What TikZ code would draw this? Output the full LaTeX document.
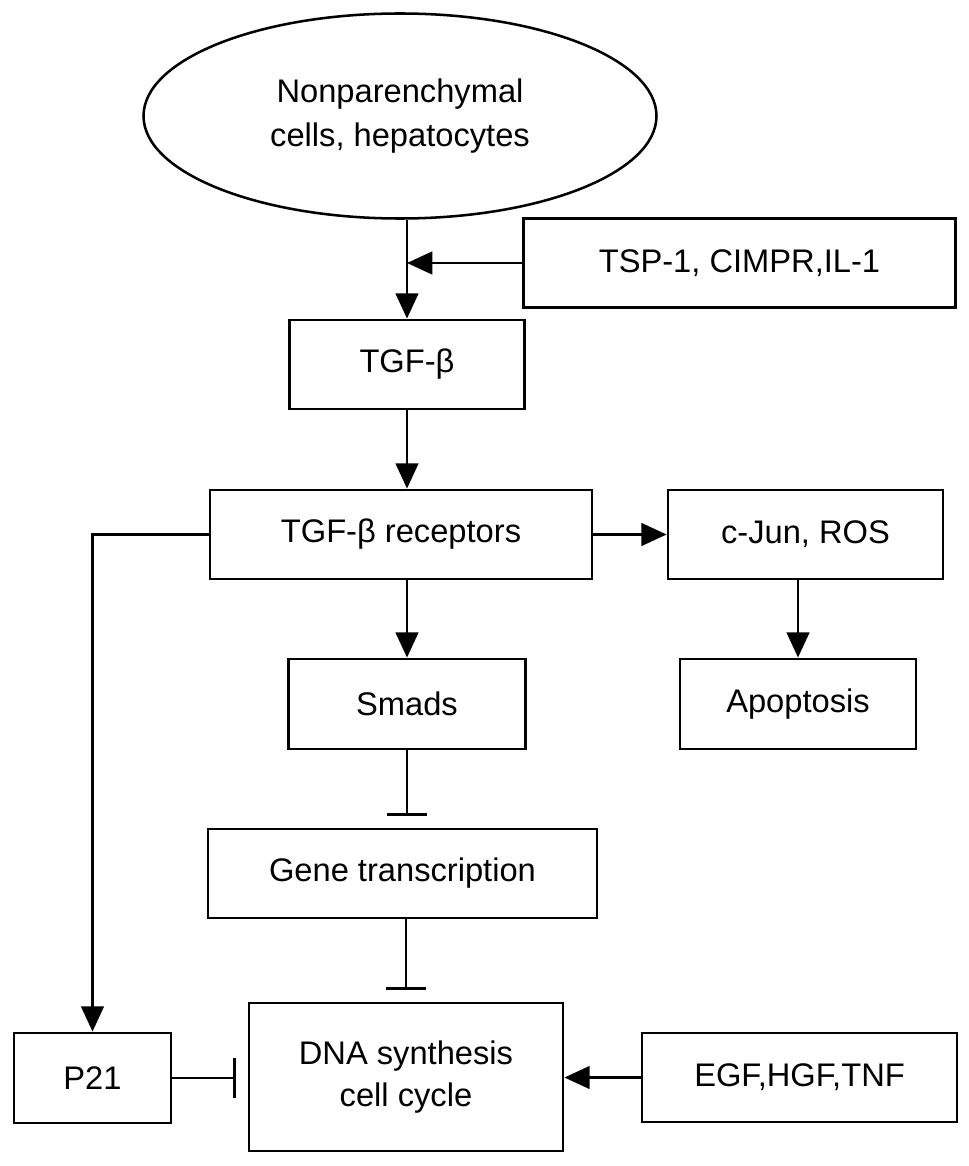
\documentclass[tikz,border=0pt]{standalone}
\usepackage{fontspec}
\setmainfont{Liberation Sans}
\usetikzlibrary{shapes.geometric,arrows.meta}
\begin{document}
\begin{tikzpicture}[x=0.75pt,y=-0.75pt,
  sz/.style 2 args={minimum width=#1*0.75pt, minimum height=#2*0.75pt},
  box/.style={draw, line width=2.1pt, inner sep=0pt, align=center,
    font=\fontsize{24.5}{32}\selectfont},
  ell/.style={draw, ellipse, line width=1.9pt, inner sep=0pt, align=center,
    font=\fontsize{24.5}{33}\selectfont},
  conn/.style={line width=2pt},
  arr/.style={conn, -{Triangle[length=19pt,width=17pt]}},
  inh/.style={conn, -{Bar[width=30pt,line width=2pt]}, shorten >=9pt}]
\useasboundingbox (0,0) rectangle (969,1166);
\fill[white] (0,0) rectangle (969,1166);

\node[ell, sz={513}{205}] (src) at (400,116) {Nonparenchymal\\cells, hepatocytes};
\node[box, sz={432}{89}] (tsp) at (739.5,263) {TSP-1, CIMPR,IL-1};
\node[box, sz={235}{89}] (tgf) at (407,364.5) {TGF-β};
\node[box, sz={382}{89}] (rec) at (401,534.5) {TGF-β receptors};
\node[box, sz={275}{89}] (cjun) at (805.5,534.5) {c-Jun, ROS};
\node[box, sz={237}{90}] (smad) at (407,704) {Smads};
\node[box, sz={236}{90}] (apo) at (798,704) {Apoptosis};
\node[box, sz={389}{89}] (gene) at (402.5,873.5) {Gene transcription};
\node[box, sz={314}{148}] (dna) at (406,1077) {DNA synthesis\\cell cycle};
\node[box, sz={157}{90}] (p21) at (92.5,1078) {P21};
\node[box, sz={315}{89}] (egf) at (799.5,1077.5) {EGF,HGF,TNF};

\draw[arr] (src.south -| tgf.north) -- (tgf.north);
\draw[arr] (tsp.west) -- (tsp.west -| tgf.north);
\draw[arr] (tgf.south) -- (tgf.south |- rec.north);
\draw[arr] (rec.east) -- (cjun.west);
\draw[arr] (apo.north |- cjun.south) -- (apo.north);
\draw[arr] (smad.north |- rec.south) -- (smad.north);
\draw[arr] (rec.west) -| (p21.north);
\draw[inh] (smad.south) -- (smad.south |- gene.north);
\draw[inh] (gene.south -| dna.north) -- (dna.north);
\draw[inh] (p21.east) -- (p21.east -| dna.west);
\draw[arr] (egf.west) -- (egf.west -| dna.east);
\end{tikzpicture}
\end{document}
